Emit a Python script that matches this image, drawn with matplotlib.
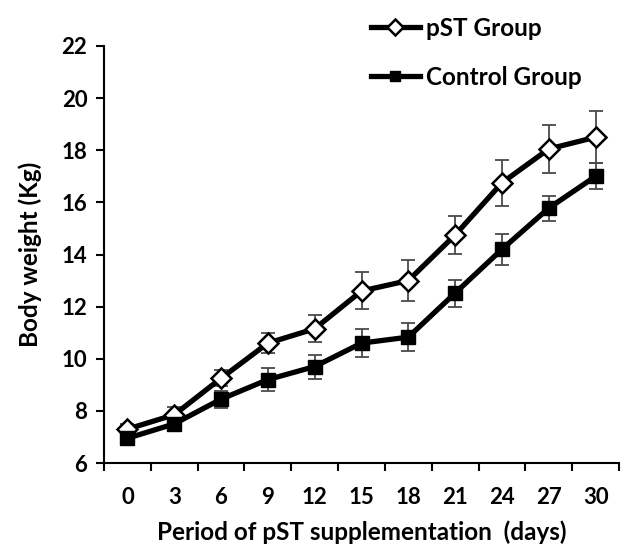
import matplotlib
matplotlib.use("Agg")
import matplotlib.pyplot as plt
import numpy as np

days = [0, 3, 6, 9, 12, 15, 18, 21, 24, 27, 30]
pst = [7.3, 7.85, 9.25, 10.6, 11.15, 12.6, 13.0, 14.75, 16.75, 18.05, 18.5]
pst_err = [0.2, 0.3, 0.3, 0.38, 0.52, 0.71, 0.79, 0.73, 0.88, 0.92, 1.0]
ctrl = [6.95, 7.5, 8.45, 9.2, 9.7, 10.6, 10.83, 12.52, 14.2, 15.78, 17.0]
ctrl_err = [0.12, 0.29, 0.33, 0.44, 0.46, 0.54, 0.54, 0.52, 0.6, 0.48, 0.5]
y_ticks = [6, 8, 10, 12, 14, 16, 18, 20, 22]

plt.rcParams['font.family'] = ['Lato', 'DejaVu Sans']
plt.rcParams['font.weight'] = 'bold'

fig = plt.figure(figsize=(6.21, 5.46), dpi=100)
ax = fig.add_axes([104/621, 1-463/546, 515/621, (463-46)/546])

x = np.arange(len(days))
ax.errorbar(x, pst, yerr=pst_err, fmt='none', ecolor='#4a4a4a', elinewidth=1.3,
            capsize=5, capthick=1.3, zorder=2)
ax.errorbar(x, ctrl, yerr=ctrl_err, fmt='none', ecolor='#4a4a4a', elinewidth=1.3,
            capsize=5, capthick=1.3, zorder=2)
ax.plot(x, pst, color='black', lw=3.8, marker='D', markersize=10.5,
        markerfacecolor='white', markeredgecolor='black', markeredgewidth=1.8,
        label='pST Group', zorder=3)
ax.plot(x, ctrl, color='black', lw=3.8, marker='s', markersize=10,
        markerfacecolor='black', markeredgecolor='black',
        label='Control Group', zorder=3)

ax.set_xlim(-0.5, len(days) - 0.5)
ax.set_ylim(6, 22)
ax.set_yticks(y_ticks)
ax.set_yticklabels([str(v) for v in y_ticks], fontsize=16, fontweight='bold')
ax.set_xticks(np.arange(-0.5, len(days)), minor=False)
ax.set_xticklabels([])
ax.set_xticks(x, minor=True)
ax.set_xticklabels([str(d) for d in days], minor=True, fontsize=16, fontweight='bold')
ax.tick_params(axis='x', which='major', length=6, width=1.5, direction='out')
ax.tick_params(axis='x', which='minor', length=0, pad=17)
ax.tick_params(axis='y', length=6, width=1.5, direction='out', pad=6)

for s in ['top', 'right']:
    ax.spines[s].set_visible(False)
for s in ['left', 'bottom']:
    ax.spines[s].set_linewidth(1.5)

ax.set_xlabel('Period of pST supplementation  (days)', fontsize=17.5, fontweight='bold', labelpad=9)
ax.set_ylabel('Body weight (Kg)', fontsize=17.5, fontweight='bold', labelpad=14)

leg = fig.legend(loc='upper left', bbox_to_anchor=(371/621, 1 - 17/546),
                 frameon=False, fontsize=17.5, handlelength=2.0, handletextpad=0.25,
                 labelspacing=1.05, markerscale=0.75, borderaxespad=0, borderpad=0)
for t in leg.get_texts():
    t.set_fontweight('bold')

fig.savefig('out.png', dpi=100)
